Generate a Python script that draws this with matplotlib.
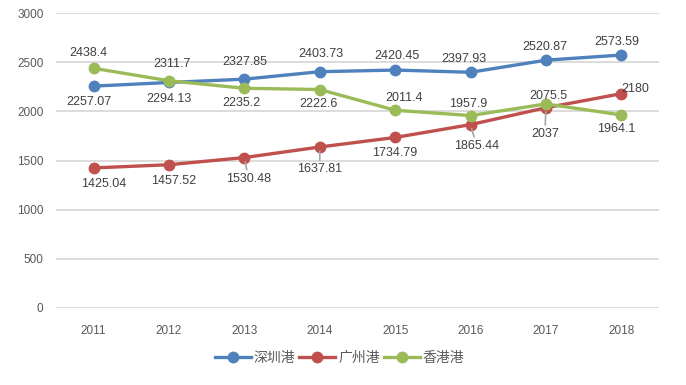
import matplotlib.pyplot as plt

plt.rcParams['font.family'] = ['Liberation Sans', 'Noto Sans CJK SC', 'DejaVu Sans']

years = ['2011', '2012', '2013', '2014', '2015', '2016', '2017', '2018']
shenzhen = [2257.07, 2294.13, 2327.85, 2403.73, 2420.45, 2397.93, 2520.87, 2573.59]
guangzhou = [1425.04, 1457.52, 1530.48, 1637.81, 1734.79, 1865.44, 2037, 2180]
hongkong = [2438.4, 2311.7, 2235.2, 2222.6, 2011.4, 1957.9, 2075.5, 1964.1]
names = ['深圳港', '广州港', '香港港']
colors = ['#4F81BD', '#C0504D', '#9BBB59']

# label offsets in pixels (dx, dy), per point
offsets = [
    [(-5, -16), (0, -17), (0, 17), (1, 18), (2, 14), (-7, 13), (-1, 13), (-4, 13)],
    [(10, -16), (5, -16), (4, -21), (0, -22), (0, -16), (6, -21), (-1, -26), (14, 5)],
    [(-5, 15), (3, 17), (-3, -15), (-1, -14), (9, 12), (-2, 12), (2, 8), (-5, -14)],
]
leaders = {(1, 2), (1, 3), (1, 5), (1, 6)}

fig = plt.figure(figsize=(6.86, 3.85), dpi=100)
ax = fig.add_axes([0.0816, 0.2, 0.879, 0.766])

x = range(len(years))
for s, (vals, name, c) in enumerate(zip([shenzhen, guangzhou, hongkong], names, colors)):
    ax.plot(x, vals, color=c, lw=2.4, marker='o', ms=7.5, label=name, zorder=3)
    for i, v in enumerate(vals):
        dx, dy = offsets[s][i]
        kw = {}
        if (s, i) in leaders:
            kw['arrowprops'] = dict(arrowstyle='-', color='#A6A6A6', lw=1.2,
                                    shrinkA=0, shrinkB=3)
        ax.annotate(f'{v:g}', (i, v), xytext=(dx, dy), textcoords='offset pixels',
                    ha='center', va='center', fontsize=9, color='#404040',
                    zorder=4, **kw)

ax.set_xlim(-0.5, len(years) - 0.5)
ax.set_ylim(0, 3000)
ax.set_yticks(range(0, 3001, 500))
ax.set_xticks(list(x))
ax.set_xticklabels(years)
ax.grid(axis='y', color='#D9D9D9', lw=1.3)
ax.set_axisbelow(True)
for sp in ax.spines.values():
    sp.set_visible(False)
ax.tick_params(length=0, labelsize=8.5, colors='#595959', pad=12)
ax.tick_params(axis='y', pad=9)

leg = fig.legend(loc='center', bbox_to_anchor=(0.495, 0.07), ncol=3, frameon=False,
                 fontsize=10, handlelength=2.6, columnspacing=0.3, handletextpad=0.2)
for t in leg.get_texts():
    t.set_color('#595959')

plt.savefig('out.png', dpi=100)
